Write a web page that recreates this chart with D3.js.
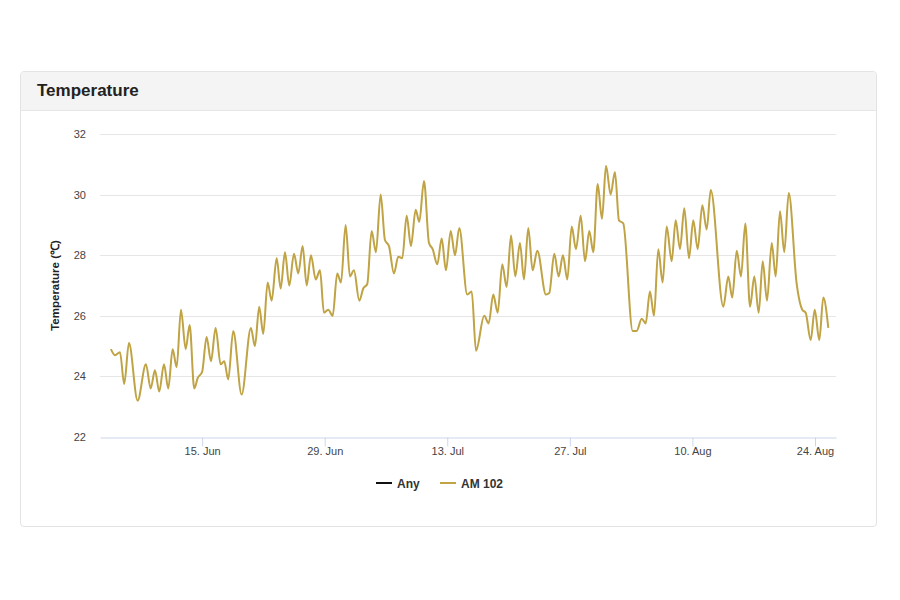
<!DOCTYPE html>
<html>
<head>
<meta charset="utf-8">
<script src="https://cdn.jsdelivr.net/npm/d3@7"></script>
<style>
  body { margin: 0; background: #fff; font-family: "Liberation Sans", Arial, Helvetica, sans-serif; }
  .card {
    position: absolute; left: 20px; top: 71px; width: 855px; height: 454px;
    border: 1px solid #e3e3e3; border-radius: 4px; background: #fff; overflow: hidden;
  }
  .card-header {
    height: 38px; background: #f4f4f4; border-bottom: 1px solid #e6e6e6;
    font-weight: bold; font-size: 17px; color: #222; line-height: 38px; padding-left: 16px;
  }
  svg { position: absolute; left: 0; top: 0; }
</style>
</head>
<body>
<div class="card"><div class="card-header">Temperature</div></div>
<div id="chart"></div>
<script>
// days since 1 June 2023 for each reading, and the reading in degrees C
const readingDays = [
  3.58, 4.04, 4.61, 5.10, 5.64, 6.63, 7.58, 8.12, 8.61, 9.10,
  9.64, 10.13, 10.63, 11.09, 11.58, 12.12, 12.57, 13.10, 13.50, 14.00,
  14.51, 15.01, 15.54, 16.11, 16.52, 16.98, 17.55, 18.51, 19.57, 20.03,
  20.52, 20.98, 21.48, 21.94, 22.51, 22.97, 23.46, 23.95, 24.49, 24.98,
  25.48, 25.94, 26.43, 26.97, 27.46, 27.91, 28.40, 28.91, 29.43, 29.86,
  30.39, 30.88, 31.34, 31.95, 32.40, 32.86, 33.36, 33.85, 34.39, 34.88,
  35.34, 35.91, 36.40, 36.86, 37.36, 37.85, 38.39, 38.80, 39.34, 39.91,
  40.33, 40.86, 41.36, 41.85, 42.39, 42.88, 43.37, 44.28, 44.79, 45.28,
  46.22, 46.73, 47.25, 47.76, 48.28, 48.78, 49.28, 49.77, 50.30, 50.76,
  51.25, 51.75, 52.28, 53.27, 53.65, 54.22, 54.72, 55.21, 55.71, 56.21,
  56.70, 57.24, 57.73, 58.22, 58.68, 59.18, 59.67, 60.13, 60.66, 61.15,
  61.61, 62.10, 63.18, 63.63, 64.21, 64.66, 65.15, 65.61, 66.10, 66.60,
  67.06, 67.63, 68.09, 68.58, 69.07, 69.61, 70.10, 70.60, 71.13, 71.63,
  72.09, 73.53, 74.10, 74.55, 75.06, 75.55, 76.04, 76.58, 77.07, 77.57,
  78.03, 78.52, 79.06, 79.51, 80.00, 80.49, 81.00, 81.91, 82.55, 82.94,
  83.51, 83.97, 84.49, 84.95, 85.52
];
const am102Temps = [
  24.9, 24.7, 24.8, 23.75, 25.1, 23.2, 24.4, 23.6, 24.2, 23.5,
  24.4, 23.6, 24.9, 24.3, 26.2, 24.9, 25.7, 23.6, 23.95, 24.15,
  25.3, 24.5, 25.6, 24.4, 24.5, 23.9, 25.5, 23.4, 25.6, 25.0,
  26.3, 25.4, 27.1, 26.5, 27.9, 26.9, 28.1, 27.0, 28.05, 27.4,
  28.3, 27.0, 28.0, 27.2, 27.5, 26.1, 26.2, 26.0, 27.4, 27.1,
  29.0, 27.3, 27.5, 26.5, 26.9, 27.05, 28.8, 28.1, 30.0, 28.5,
  28.3, 27.4, 27.95, 27.9, 29.3, 28.3, 29.5, 29.1, 30.45, 28.4,
  28.2, 27.7, 28.55, 27.5, 28.8, 28.0, 28.9, 26.7, 26.8, 24.85,
  26.0, 25.75, 26.7, 26.1, 27.7, 26.95, 28.65, 27.3, 28.4, 27.2,
  28.9, 27.5, 28.15, 26.7, 26.75, 28.05, 27.3, 28.0, 27.2, 28.95,
  28.2, 29.3, 27.8, 28.8, 28.1, 30.35, 29.2, 30.95, 30.0, 30.75,
  29.15, 29.05, 25.5, 25.5, 25.9, 25.75, 26.8, 26.0, 28.2, 27.1,
  28.95, 27.8, 29.15, 28.2, 29.55, 27.9, 29.15, 28.2, 29.65, 28.85,
  30.15, 26.3, 27.3, 26.6, 28.15, 27.3, 29.05, 26.3, 27.3, 26.1,
  27.8, 26.5, 28.4, 27.3, 29.45, 28.1, 30.05, 27.05, 26.2, 26.1,
  25.2, 26.2, 25.2, 26.6, 25.6
];
const yTicks = [22, 24, 26, 28, 30, 32];
const xTickDates = ["2023-06-15", "2023-06-29", "2023-07-13", "2023-07-27", "2023-08-10", "2023-08-24"];
const seriesNames = ["Any", "AM 102"];
const seriesColors = ["#111111", "#bfa344"];

const seasonStart = new Date(2023, 5, 1);
const toDate = (d) => new Date(seasonStart.getTime() + d * 864e5);
const parseDay = d3.timeParse("%Y-%m-%d");

const width = 900, height = 600;
const margin = { top: 134, right: 64, bottom: 163, left: 100 };

const svg = d3.select("#chart").append("svg")
  .attr("width", width)
  .attr("height", height)
  .style("font-family", '"Liberation Sans", Arial, Helvetica, sans-serif');

const x = d3.scaleTime()
  .domain([new Date(2023, 5, 3, 8), new Date(2023, 7, 26, 9, 36)])
  .range([margin.left, width - margin.right]);

const y = d3.scaleLinear()
  .domain([22, 32])
  .range([height - margin.bottom, margin.top]);

// horizontal grid
svg.append("g")
  .selectAll("line")
  .data(yTicks.filter((d) => d !== 22))
  .join("line")
  .attr("x1", x.range()[0])
  .attr("x2", x.range()[1])
  .attr("y1", (d) => Math.round(y(d)) + 0.5)
  .attr("y2", (d) => Math.round(y(d)) + 0.5)
  .attr("stroke", "#e6e6e6");

// y labels
svg.append("g")
  .selectAll("text")
  .data(yTicks)
  .join("text")
  .attr("x", 86)
  .attr("y", (d) => y(d) + 4)
  .attr("text-anchor", "end")
  .attr("font-size", "11px")
  .attr("fill", "#444")
  .text((d) => d);

// y title
svg.append("text")
  .attr("transform", `translate(59,${(y(22) + y(32)) / 2}) rotate(-90)`)
  .attr("text-anchor", "middle")
  .attr("font-size", "11.5px")
  .attr("font-weight", "bold")
  .attr("fill", "#222")
  .text("Temperature (℃)");

// x axis
const xAxis = d3.axisBottom(x)
  .tickValues(xTickDates.map(parseDay))
  .tickFormat(d3.timeFormat("%-d. %b"))
  .tickSize(9)
  .tickSizeOuter(0)
  .tickPadding(1);

const xAxisG = svg.append("g")
  .attr("transform", `translate(0,${Math.round(y(22)) + 0.5})`)
  .call(xAxis);
xAxisG.select(".domain").attr("stroke", "#ccd6eb").attr("stroke-width", 1.2);
xAxisG.selectAll(".tick line").attr("stroke", "#ccd6eb");
xAxisG.selectAll(".tick text")
  .attr("font-size", "11px")
  .attr("fill", "#444")
  .attr("font-family", '"Liberation Sans", Arial, sans-serif');

// series
const points = readingDays.map((d, i) => ({ date: toDate(d), value: am102Temps[i] }));

const line = d3.line()
  .x((d) => x(d.date))
  .y((d) => y(d.value))
  .curve(d3.curveMonotoneX);

svg.append("path")
  .datum(points)
  .attr("fill", "none")
  .attr("stroke", seriesColors[1])
  .attr("stroke-width", 2)
  .attr("stroke-linejoin", "round")
  .attr("d", line);

// legend
const legendX = [376, 440];
const legend = svg.append("g")
  .selectAll("g")
  .data(seriesNames)
  .join("g")
  .attr("transform", (d, i) => `translate(${legendX[i]},483)`);

legend.append("line")
  .attr("x1", 0)
  .attr("x2", 16)
  .attr("stroke", (d, i) => seriesColors[i])
  .attr("stroke-width", 2);

legend.append("text")
  .attr("x", 21)
  .attr("y", 4.5)
  .attr("font-size", "12px")
  .attr("font-weight", "bold")
  .attr("fill", "#333")
  .text((d) => d);
</script>
</body>
</html>
